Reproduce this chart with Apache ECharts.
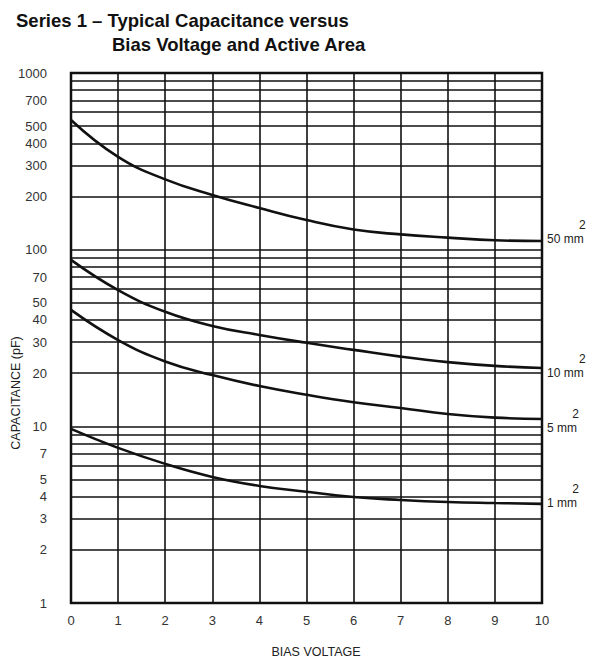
<!DOCTYPE html>
<html><head><meta charset="utf-8">
<script src="https://cdn.jsdelivr.net/npm/echarts@6/dist/echarts.min.js"></script>
<style>html,body{margin:0;padding:0;background:#fff}#c{width:592px;height:662px}</style>
</head><body><div id="c"></div>
<script>
const biasVoltage = [0, 1, 2, 3, 4, 5, 6, 7, 8, 9, 10];
const area50 = [542, 335, 250, 204, 172, 147, 130, 122, 117, 113, 112];
const area10 = [87.5, 59, 44.5, 37, 32.9, 29.7, 27.1, 24.8, 23.1, 22, 21.4];
const area5 = [45.6, 30.8, 23.3, 19.5, 16.9, 15.1, 13.7, 12.7, 11.75, 11.2, 11.0];
const area1 = [9.67, 7.55, 6.13, 5.17, 4.6, 4.26, 3.98, 3.83, 3.73, 3.68, 3.64];
const seriesNames = ['50 mm', '10 mm', '5 mm', '1 mm'];
const labelOffsets = [-9, -2, 2, -8];
const yTickLabels = [1, 2, 3, 4, 5, 7, 10, 20, 30, 40, 50, 70, 100, 200, 300, 400, 500, 700, 1000];
const yGridValues = [1, 2, 3, 4, 5, 6, 7, 8, 9, 10, 20, 30, 40, 50, 60, 70, 80, 90, 100, 200, 300, 400, 500, 600, 700, 800, 900, 1000];
const titleLine1 = 'Series 1 – Typical Capacitance versus';
const titleLine2 = 'Bias Voltage and Active Area';
const xName = 'BIAS VOLTAGE';
const yName = 'CAPACITANCE (pF)';

const FONT = '"Liberation Sans", Arial, Helvetica, sans-serif';
const INK = '#111';
const allSeries = [area50, area10, area5, area1];

const chart = echarts.init(document.getElementById('c'), null, {renderer: 'svg'});

const series = allSeries.map((vals, si) => ({
  type: 'line',
  name: seriesNames[si],
  data: biasVoltage.map((x, i) => [x, vals[i]]),
  smooth: 0.45,
  symbol: 'none',
  silent: true,
  z: 5,
  lineStyle: {color: INK, width: 2.6},
  endLabel: {
    show: true,
    distance: 5,
    offset: [0, labelOffsets[si]],
    formatter: '{s|2}\n{n|' + seriesNames[si] + '}',
    rich: {
      s: {align: 'right', fontSize: 12, lineHeight: 14, color: '#222', fontFamily: FONT},
      n: {fontSize: 12, lineHeight: 14, color: '#222', fontFamily: FONT, padding: [0, 2, 0, 0]}
    }
  }
}));

series.push({
  type: 'line',
  data: [],
  silent: true,
  z: 3,
  markLine: {
    silent: true,
    symbol: 'none',
    animation: false,
    lineStyle: {color: INK, width: 1.5, type: 'solid'},
    emphasis: {disabled: true},
    data: yGridValues.map(v => ({
      yAxis: v,
      label: {
        show: yTickLabels.indexOf(v) >= 0,
        position: 'start',
        distance: 24,
        formatter: String(v),
        color: '#333',
        fontSize: 13,
        fontFamily: FONT
      }
    }))
  }
});

chart.setOption({
  animation: false,
  backgroundColor: '#fff',
  textStyle: {fontFamily: FONT},
  title: [
    {text: titleLine1, left: 11, top: 6, textStyle: {fontSize: 18.5, fontWeight: 'bold', color: INK, fontFamily: FONT}},
    {text: titleLine2, left: 107, top: 30, textStyle: {fontSize: 18.5, fontWeight: 'bold', color: INK, fontFamily: FONT}}
  ],
  grid: {left: 71, right: 50, top: 73, bottom: 59, show: true, borderColor: INK, borderWidth: 2.5, backgroundColor: 'transparent'},
  xAxis: {
    type: 'value', min: 0, max: 10, interval: 1,
    axisLine: {show: false}, axisTick: {show: false},
    axisLabel: {fontSize: 13, color: '#333', margin: 11, fontFamily: FONT},
    splitLine: {show: true, lineStyle: {color: INK, width: 1.6}}
  },
  yAxis: {
    type: 'log', logBase: 10, min: 1, max: 1000,
    axisLine: {show: false}, axisTick: {show: false},
    axisLabel: {show: false},
    splitLine: {show: false}
  },
  graphic: [
    {type: 'text', x: 16, y: 393, rotation: Math.PI / 2, silent: true,
      style: {text: yName, fontSize: 12.5, fill: '#222', fontFamily: FONT, align: 'center', verticalAlign: 'middle'}},
    {type: 'text', x: 316, y: 652, silent: true,
      style: {text: xName, fontSize: 12.5, fill: '#222', fontFamily: FONT, align: 'center', verticalAlign: 'middle'}}
  ],
  series: series
});
</script>
</body></html>
